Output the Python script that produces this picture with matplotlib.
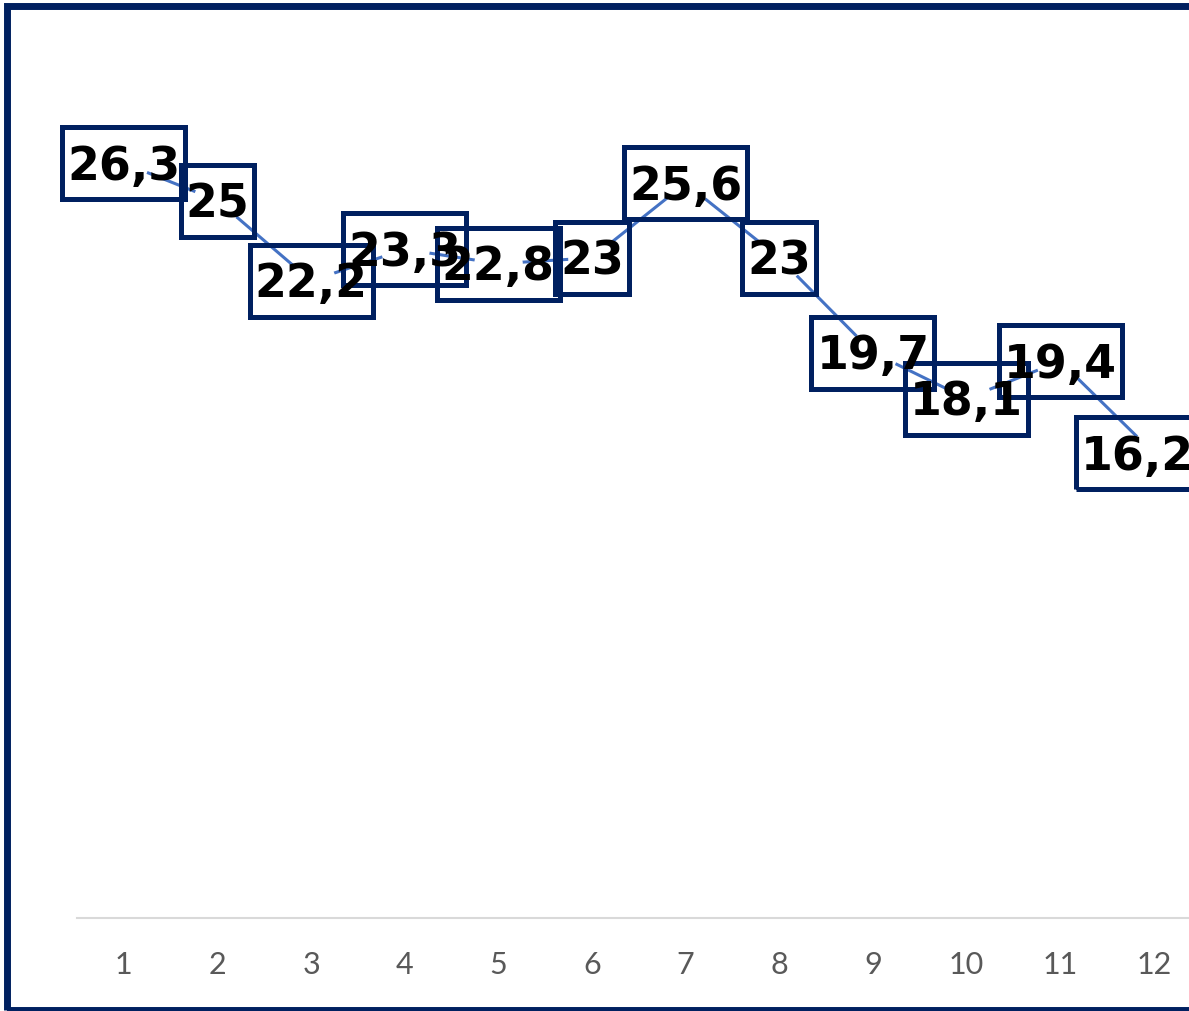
import matplotlib
matplotlib.use('Agg')
from matplotlib import pyplot as plt
from matplotlib.patches import Rectangle

months = [1, 2, 3, 4, 5, 6, 7, 8, 9, 10, 11, 12]
values = [26.3, 25, 22.2, 23.3, 22.8, 23, 25.6, 23, 19.7, 18.1, 19.4, 16.2]
labels = [('%g' % v).replace('.', ',') for v in values]
# last label is pushed back inside the chart area, like Excel does
shift_x = [0, 0, 0, 0, 0, 0, 0, 0, 0, 0, 0, -16]

W, H = 1189, 1011
fig = plt.figure(figsize=(W / 100, H / 100), dpi=100)
fig.patch.set_facecolor('white')

# plot area runs past the right edge of the picture, as in the original
ax = fig.add_axes([77 / W, 93 / H, 1123.6 / W, 861 / H])
ax.set_xlim(0.5, 12.5)
ax.set_ylim(0, 30)

ax.plot(months, values, color='#4472C4', lw=2.2, zorder=2, clip_on=False)
# white markers hide the line around each point
ax.plot(months, values, ls='none', marker='o', ms=35, mfc='white', mec='none',
        zorder=3, clip_on=False)

texts = []
for x, v, t, dx in zip(months, values, labels, shift_x):
    # the digits sit a little low in their box
    texts.append(ax.annotate(t, (x, v), xytext=(dx, -4), textcoords='offset pixels',
                             fontsize=33, fontweight='bold', family='DejaVu Sans',
                             ha='center', va='center', color='black', zorder=6,
                             annotation_clip=False))

for s in ['left', 'right', 'top']:
    ax.spines[s].set_visible(False)
ax.spines['bottom'].set_color('#D9D9D9')
ax.spines['bottom'].set_linewidth(1.5)
ax.set_yticks([])
ax.set_xticks(months)
ax.set_xticklabels([str(m) for m in months])
ax.tick_params(axis='x', length=0, pad=24, labelsize=22, labelcolor='#595959')
for lab in ax.get_xticklabels():
    lab.set_family('Lato')

# label boxes: text width plus a little, fixed height, centred on the point
fig.canvas.draw()
r = fig.canvas.get_renderer()
for x, v, dx, txt in zip(months, values, shift_x, texts):
    px, py = ax.transData.transform((x, v))
    tw = txt.get_window_extent(r).width + 10
    bh = 72
    ax.add_patch(Rectangle((px + dx - tw / 2, py - bh / 2), tw, bh, transform=None,
                           fill=False, ec='#002060', lw=3.6, zorder=5, clip_on=False))

# dark frame around the chart
fig.patches.append(Rectangle((7 / W, (H - 1010) / H), 1.2, (1010 - 5.5) / H,
                             transform=fig.transFigure, fill=False,
                             ec='#002060', lw=5, zorder=10))

fig.savefig('out.png', dpi=100)
